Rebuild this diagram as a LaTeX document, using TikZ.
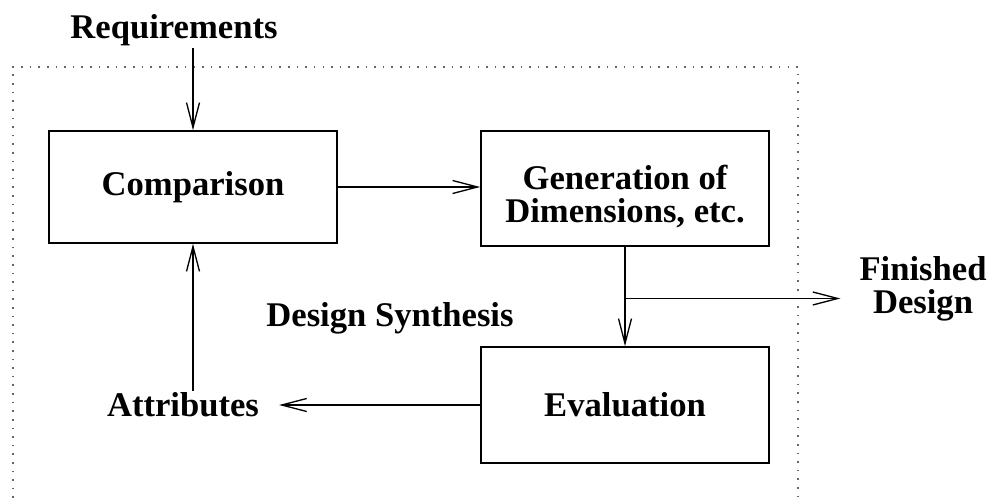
\documentclass[tikz,border=0pt]{standalone}
\usepackage{fontspec}
\setmainfont{Liberation Serif}
\usetikzlibrary{arrows.meta,positioning,calc}

\tikzset{
  block/.style={draw, line width=0.9pt, minimum width=5.76cm, inner sep=2pt,
                font=\bfseries\fontsize{19.7}{18.8}\selectfont, align=center},
  label/.style={inner sep=1pt, font=\bfseries\fontsize{19.7}{18.8}\selectfont, align=center},
  flow/.style={line width=0.75pt, -{Straight Barb[length=5mm,width=2.6mm,line width=0.75pt]}},
  frame/.style={line width=1pt, gray!80!black, dash pattern=on 0.9pt off 4pt}
}

\begin{document}
\begin{tikzpicture}
  \useasboundingbox (0,0) rectangle (19.84,-9.96);

  % outer dotted frame, open at the bottom
  \draw[frame] (0.26,-9.96) -- (0.26,-1.34) -- (15.96,-1.34) -- (15.96,-9.96);

  \node[block, minimum height=2.24cm] (comp) at (3.86,-3.74) {Comparison};
  \node[block, minimum height=2.30cm] (gen) at (12.5,-3.77)
    {\rule{0pt}{23.5pt}Generation of\\Dimensions, etc.};
  \node[block, minimum height=2.32cm] (eval) at (12.5,-8.1) {Evaluation};

  \node[label] (req) at (3.48,-0.6) {Requirements};
  \node[label] (attr) at (3.66,-8.1) {Attributes};
  \node[label] (syn) at (7.8,-6.36) {Design Synthesis};
  \node[label] (fin) at (18.46,-5.78) {Finished\\Design};

  \coordinate (branch) at ($(gen.south)!0.52!(eval.north)$);

  \draw[flow] (req.south -| comp.north) -- (comp.north);
  \draw[flow] (comp.east) -- (comp.east -| gen.west);
  \draw[flow] (gen.south) -- (eval.north);
  \draw[flow, shorten >=0.34cm] (branch) -- (branch -| fin.west);
  \draw[flow, shorten >=0.36cm] (eval.west) -- (attr.east);
  \draw[flow] (attr.north -| comp.south) -- (comp.south);
\end{tikzpicture}
\end{document}
